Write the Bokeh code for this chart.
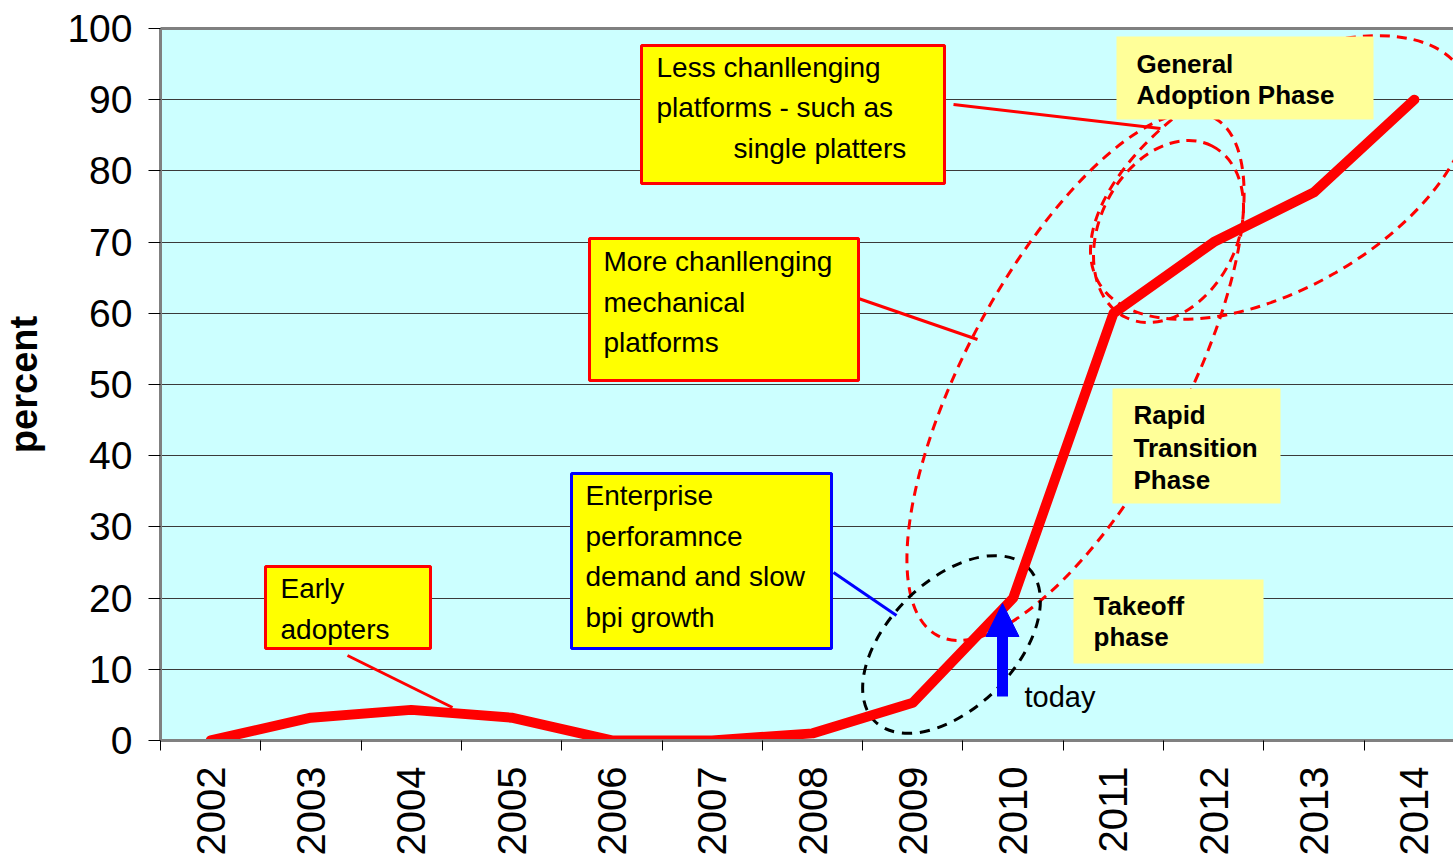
import math
from bokeh.plotting import figure
from bokeh.models import (Range1d, FixedTicker, LinearAxis, BoxAnnotation, Label,
                          Arrow, NormalHead, ColumnDataSource)
from bokeh.embed import file_html
from bokeh.resources import INLINE

# ---------------- data ----------------
years = ["2002", "2003", "2004", "2005", "2006", "2007", "2008",
         "2009", "2010", "2011", "2012", "2013", "2014"]
percent = [0, 3.2, 4.3, 3.2, 0, 0, 1.0, 5.3, 20, 60, 70, 77, 90]
y_ticks = [0, 10, 20, 30, 40, 50, 60, 70, 80, 90, 100]

idx = list(range(len(years)))

FONT = "Liberation Sans"

p = figure(width=1453, height=859,
           x_range=Range1d(-0.5, 12.39), y_range=Range1d(0, 100),
           output_backend="svg", toolbar_location=None,
           min_border_left=160, min_border_right=0,
           min_border_top=28, min_border_bottom=119)
p.background_fill_color = "#CCFFFF"
p.border_fill_color = "white"
p.outline_line_color = None

# helpers: page-pixel layout -> data coordinates (for annotations only)
PX0, PXU = 210.15, 100.31
PY0, PYU = 740.0, 7.12
def X(px):
    return (px - PX0) / PXU
def Y(py):
    return (PY0 - py) / PYU

# ---------------- axes ----------------
p.yaxis.ticker = FixedTicker(ticks=y_ticks)
p.yaxis.major_tick_out = 12
p.yaxis.major_tick_in = 0
p.yaxis.major_tick_line_color = "black"
p.yaxis.minor_tick_line_color = None
p.yaxis.axis_line_color = "#808080"
p.yaxis.axis_line_width = 3
p.yaxis.major_label_text_font = FONT
p.yaxis.major_label_text_font_size = "39px"
p.yaxis.major_label_text_color = "black"
p.yaxis.major_label_standoff = 16
p.yaxis.axis_label = "percent"
p.yaxis.axis_label_text_font = FONT
p.yaxis.axis_label_text_font_style = "bold"
p.yaxis.axis_label_text_font_size = "38px"
p.yaxis.axis_label_text_color = "black"
p.yaxis.axis_label_standoff = 19

p.xaxis.ticker = FixedTicker(ticks=idx, minor_ticks=[i - 0.5 for i in range(len(years) + 1)])
p.xaxis.major_label_overrides = {i: y for i, y in zip(idx, years)}
p.xaxis.major_label_orientation = math.pi / 2
p.xaxis.major_tick_line_color = None
p.xaxis.major_tick_out = 0
p.xaxis.major_tick_in = 0
p.xaxis.minor_tick_line_color = "black"
p.xaxis.minor_tick_out = 10
p.xaxis.minor_tick_in = 0
p.xaxis.axis_line_color = "#808080"
p.xaxis.axis_line_width = 3
p.xaxis.major_label_text_font = FONT
p.xaxis.major_label_text_font_size = "40px"
p.xaxis.major_label_text_color = "black"
p.xaxis.major_label_standoff = 16

top_axis = LinearAxis(ticker=FixedTicker(ticks=[]), axis_line_color="#808080", axis_line_width=3,
                      major_tick_line_color=None, minor_tick_line_color=None,
                      major_label_text_font_size="0px")
p.add_layout(top_axis, "above")

p.xgrid.grid_line_color = None
p.ygrid.grid_line_color = "#3a3a3a"
p.ygrid.grid_line_width = 1

# ---------------- dashed ellipses (annotation shapes) ----------------
ell = ColumnDataSource(dict(
    x=[X(1075), X(1168), X(1280)],
    y=[Y(376), Y(231), Y(177)],
    w=[587, 192, 420],
    h=[219, 137, 220],
    a=[math.radians(61.9), math.radians(63), math.radians(30)],
))
p.ellipse(x="x", y="y", width="w", height="h", angle="a", source=ell,
          width_units="screen", height_units="screen",
          fill_color=None, line_color="#FF0000", line_width=3, line_dash="10 7")
p.ellipse(x=[X(951)], y=[Y(644)], width=[217], height=[127], angle=[math.radians(45)],
          width_units="screen", height_units="screen",
          fill_color=None, line_color="black", line_width=3, line_dash="10 8")

# connectors
p.segment(x0=[X(347), X(858), X(953)], y0=[Y(655), Y(298), Y(104)],
          x1=[X(452), X(977), X(1160)], y1=[Y(707), Y(339), Y(128)],
          line_color="#FF0000", line_width=3)
p.segment(x0=[X(833)], y0=[Y(572)], x1=[X(896)], y1=[Y(615)],
          line_color="#0000FF", line_width=3)

# ---------------- data line ----------------
p.line(x=idx, y=percent, line_color="#FF0000", line_width=10,
       line_join="round", line_cap="round")

# ---------------- boxes ----------------
def box(l, r, t, b, fill, line=None):
    p.add_layout(BoxAnnotation(left=X(l), right=X(r), top=Y(t), bottom=Y(b),
                               fill_color=fill, fill_alpha=1,
                               line_color=line, line_width=3 if line else 0,
                               line_alpha=1 if line else 0))

box(265, 430, 566, 648, "#FFFF00", "#FF0000")
box(571, 831, 473, 648, "#FFFF00", "#0000FF")
box(589, 858, 238, 380, "#FFFF00", "#FF0000")
box(641, 944, 45, 183, "#FFFF00", "#FF0000")
box(1116, 1373, 36, 119, "#FFFF99")
box(1112, 1280, 388, 503, "#FFFF99")
box(1073, 1263, 579, 663, "#FFFF99")

def text(px, py, s, size="28px", bold=False):
    p.add_layout(Label(x=X(px), y=Y(py), text=s, text_font=FONT, text_font_size=size,
                       text_font_style="bold" if bold else "normal",
                       text_color="black", text_align="left", text_baseline="alphabetic"))

text(280, 588, "Early")
text(280, 629, "adopters")

text(585, 495, "Enterprise")
text(585, 536, "perforamnce")
text(585, 576, "demand and slow")
text(585, 617, "bpi growth")

text(603, 261, "More chanllenging")
text(603, 302, "mechanical")
text(603, 342, "platforms")

text(656, 67, "Less chanllenging")
text(656, 107, "platforms - such as")
text(733, 148, "single platters")

text(1136, 63, "General", "26px", True)
text(1136, 94, "Adoption Phase", "26px", True)

text(1133, 414, "Rapid", "26px", True)
text(1133, 447, "Transition", "26px", True)
text(1133, 479, "Phase", "26px", True)

text(1093, 605, "Takeoff", "26px", True)
text(1093, 636, "phase", "26px", True)

text(1024, 696, "today", "29px")

# "today" arrow
p.add_layout(Arrow(x_start=X(1002), y_start=Y(696), x_end=X(1002), y_end=Y(603),
                   line_color="#0000FF", line_width=11,
                   end=NormalHead(size=33, fill_color="#0000FF", line_color="#0000FF", line_width=1)))

open("out.html", "w").write(file_html(p, INLINE))
